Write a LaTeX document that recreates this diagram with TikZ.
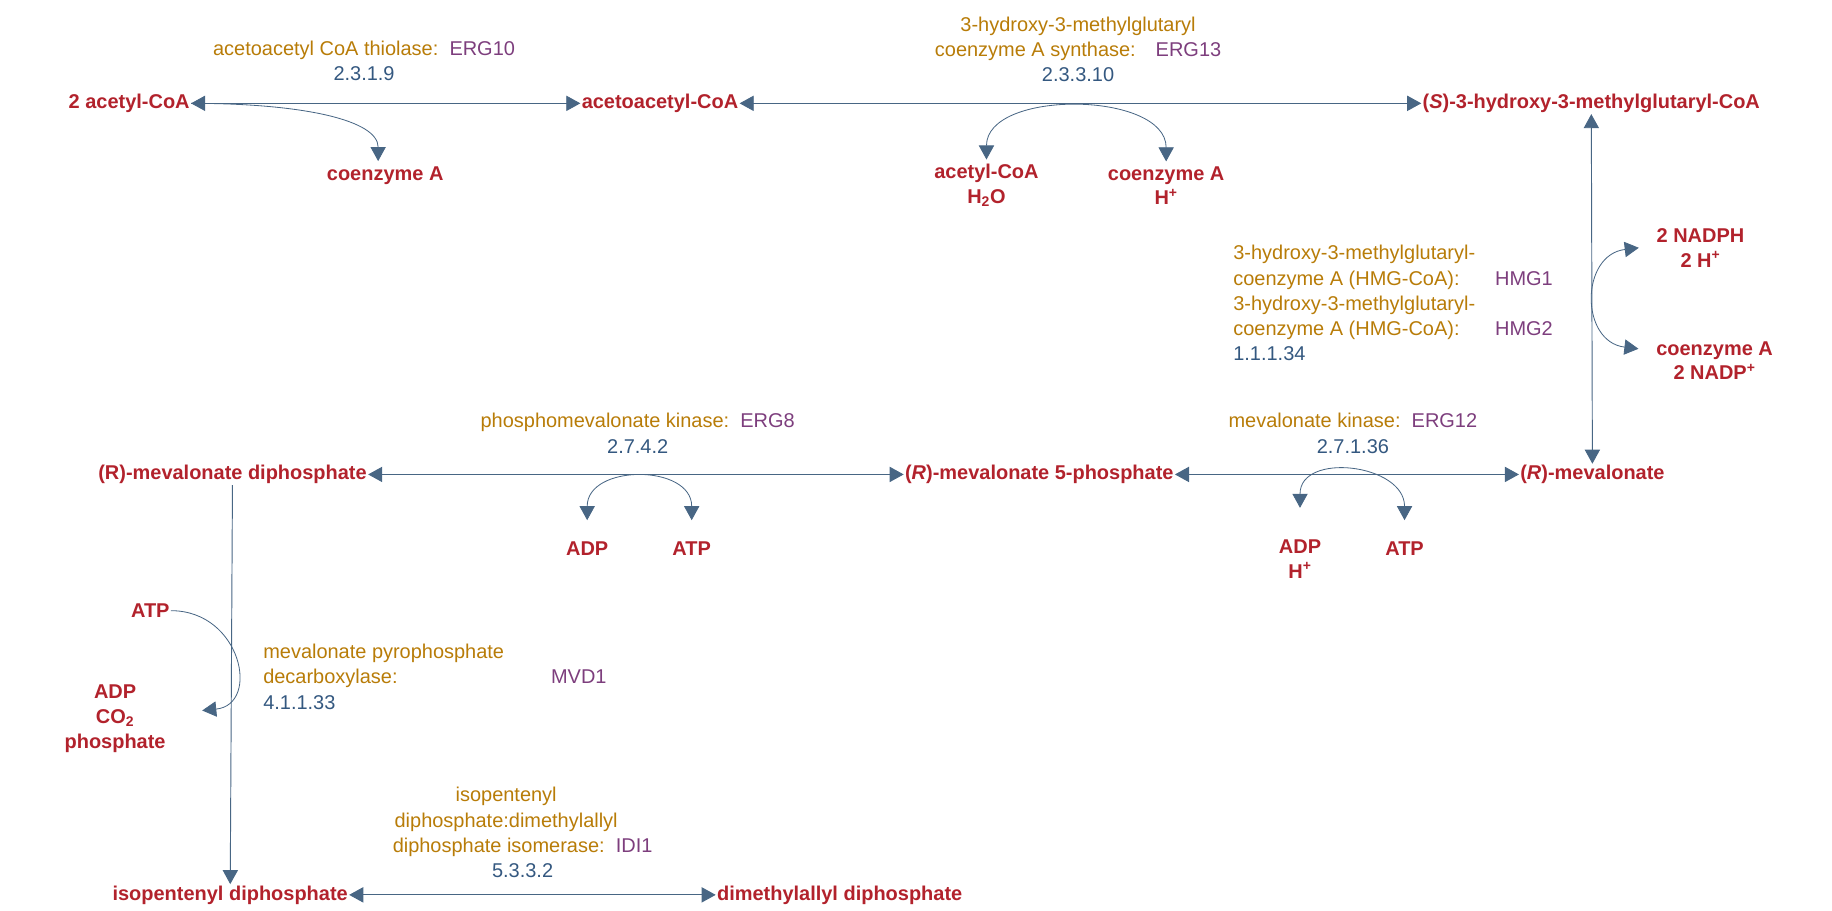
\documentclass[tikz,border=0pt]{standalone}
\usepackage{fontspec}
\setmainfont{Liberation Sans}
\usepackage{tikz}
\usetikzlibrary{arrows.meta}
\definecolor{cpd}{RGB}{178,34,44}
\definecolor{enz}{RGB}{184,124,8}
\definecolor{gene}{RGB}{125,62,125}
\definecolor{ec}{RGB}{52,88,128}
\definecolor{edge}{RGB}{72,102,132}
\begin{document}
\begin{tikzpicture}[
    x=1pt, y=-1pt,
    >={Triangle[width=13pt,length=12pt]},
    cpd/.style = {text=cpd, font=\bfseries\fontsize{17}{21}\selectfont, align=center, inner sep=1pt},
    enz/.style = {text=enz, font=\fontsize{17}{21.5}\selectfont, align=center, inner sep=0pt},
    rx/.style = {draw=edge, line width=0.8pt, <->},
    side/.style = {draw=edge, line width=0.7pt}
]
    \useasboundingbox (0,0) rectangle (1560,775);

    % --- Compounds ---
    \node[cpd] (acet) at (110,88) {2 acetyl-CoA};
    \node[cpd] (acac) at (562,88) {acetoacetyl-CoA};
    \node[cpd] (hmg) at (1355,88) {(\textit{S})-3-hydroxy-3-methylglutaryl-CoA};
    \node[cpd] (coa1) at (328,150) {coenzyme A};
    \node[cpd] (acw) at (840,158) {acetyl-CoA\\H\textsubscript{2}O};
    \node[cpd] (coah) at (993,158) {coenzyme A\\H\textsuperscript{+}};
    \node[cpd] (nadph) at (1448,211) {2 NADPH\\2 H\textsuperscript{+}};
    \node[cpd] (nadp) at (1460,307) {coenzyme A\\2 NADP\textsuperscript{+}};
    \node[cpd] (mev) at (1356,404) {(\textit{R})-mevalonate};
    \node[cpd] (mev5p) at (885,404) {(\textit{R})-mevalonate 5-phosphate};
    \node[cpd] (mevpp) at (198,404) {(R)-mevalonate diphosphate};
    \node[cpd] (adp1) at (500,467) {ADP};
    \node[cpd] (atp1) at (589,467) {ATP};
    \node[cpd] (adp2) at (1107,476) {ADP\\H\textsuperscript{+}};
    \node[cpd] (atp2) at (1196,467) {ATP};
    \node[cpd] (atp3) at (128,520) {ATP};
    \node[cpd] (adpco) at (98,612) {ADP\\CO\textsubscript{2}\\phosphate};
    \node[cpd] (ipp) at (196,762) {isopentenyl diphosphate};
    \node[cpd] (dmapp) at (715,762) {dimethylallyl diphosphate};

    % --- Enzymes ---
    \node[enz] (erg10) at (310,52) {acetoacetyl CoA thiolase:\ \ \textcolor{gene}{ERG10}\\\textcolor{ec}{2.3.1.9}};
    \node[enz] (erg13) at (918,42) {3-hydroxy-3-methylglutaryl\\coenzyme A synthase:\quad\textcolor{gene}{ERG13}\\\textcolor{ec}{2.3.3.10}};
    \node[enz, anchor=west] (hmgr) at (1050,260) {\begin{tabular}{@{}l@{\hspace{17pt}}l@{}}
        3-hydroxy-3-methylglutaryl- & \\
        coenzyme A (HMG-CoA): & \textcolor{gene}{HMG1}\\
        3-hydroxy-3-methylglutaryl- & \\
        coenzyme A (HMG-CoA): & \textcolor{gene}{HMG2}\\
        \textcolor{ec}{1.1.1.34} &
    \end{tabular}};
    \node[enz] (erg8) at (543,369) {phosphomevalonate kinase:\ \ \textcolor{gene}{ERG8}\\\textcolor{ec}{2.7.4.2}};
    \node[enz] (erg12) at (1152,369) {mevalonate kinase:\ \ \textcolor{gene}{ERG12}\\\textcolor{ec}{2.7.1.36}};
    \node[enz, anchor=west] (mvd1) at (224,578) {\begin{tabular}{@{}l@{\hspace{40pt}}l@{}}
        mevalonate pyrophosphate & \\
        decarboxylase: & \textcolor{gene}{MVD1}\\
        \textcolor{ec}{4.1.1.33} &
    \end{tabular}};
    \node[enz] (idi1) at (445,709) {\hspace*{-28pt}isopentenyl\\\hspace*{-28pt}diphosphate:dimethylallyl\\diphosphate isomerase:\ \ \textcolor{gene}{IDI1}\\\textcolor{ec}{5.3.3.2}};

    % --- Reactions ---
    \draw[rx] (acet) -- (acac);
    \draw[rx] (acac) -- (hmg);
    \draw[rx] (hmg) -- (mev);
    \draw[rx] (mev) -- (mev5p);
    \draw[rx] (mev5p) -- (mevpp);
    \draw[draw=edge, line width=0.8pt, ->] (mevpp) -- (ipp);
    \draw[rx] (ipp) -- (dmapp);

    % --- Co-substrates ---
    \draw[side, ->] (acet.east) .. controls +(95,0) and +(0,-35) .. ([yshift=4pt]coa1.north -| 322,0);
    \draw[side, <->] ([yshift=3pt]acw.north) .. controls +(0,-60) and +(0,-60) .. ([yshift=3pt]coah.north);
    \draw[side, <->] ([xshift=-14pt]nadph.west) .. controls +(-50,6) and +(-50,-6) .. ([xshift=-14pt,yshift=10pt]nadp.west);
    \draw[side, <->] ([yshift=17pt]adp1.north) .. controls +(0,-48) and +(0,-48) .. ([yshift=17pt]atp1.north);
    \draw[side, <->] ([yshift=26pt]adp2.north) .. controls +(0,-48) and +(0,-48) .. ([yshift=17pt]atp2.north);
    \draw[side, ->] (atp3.east) .. controls +(60,0) and +(50,-5) .. ([xshift=30pt,yshift=7pt]adpco.east);
\end{tikzpicture}
\end{document}
